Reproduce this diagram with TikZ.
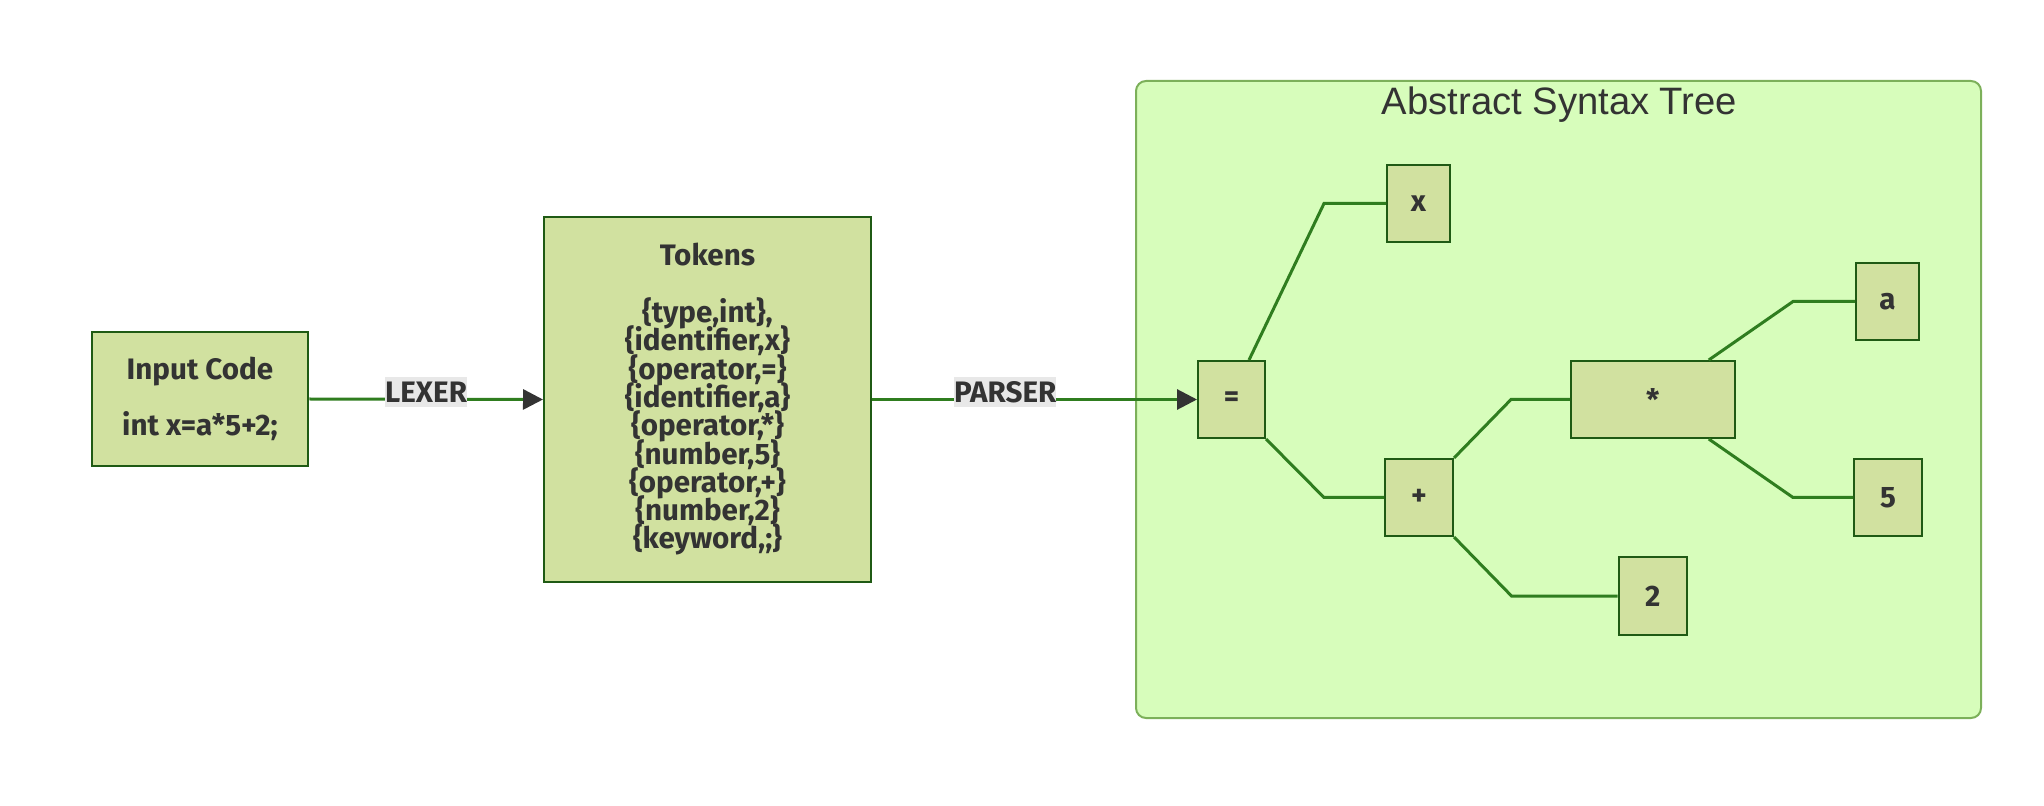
\documentclass[tikz,border=0pt]{standalone}
\usepackage{fontspec}
\setmainfont{Fira Sans}
\newfontfamily\titlefont{Liberation Sans}
\usetikzlibrary{arrows.meta,calc}
\definecolor{nodefill}{HTML}{D1E1A0}
\definecolor{nodeborder}{HTML}{1F5A14}
\definecolor{edgecol}{HTML}{2F7D1F}
\definecolor{clfill}{HTML}{D7FDBB}
\definecolor{clborder}{HTML}{7CB05A}
\definecolor{txt}{HTML}{333333}
\definecolor{lblbg}{HTML}{E8E8E8}
\newcommand{\nodefont}{\bfseries\fontsize{14.8}{14.15}\selectfont\lineskiplimit=-20pt\relax}
\begin{document}
\begin{tikzpicture}[x=0.5pt,y=-0.5pt,
  box/.style={draw=nodeborder, line width=1pt, fill=nodefill, inner sep=0pt, align=center, text=txt,
    font=\nodefont},
  edge/.style={draw=edgecol, line width=1.5pt},
  arr/.style={edge, -{Triangle[length=10pt,width=10pt,color=txt]}},
  lbl/.style={fill=lblbg, inner xsep=0pt, inner ysep=0pt, minimum height=15pt, text=txt,
    font=\nodefont},
  cluster/.style={draw=clborder, fill=clfill, line width=1pt, rounded corners=5pt}
]
\useasboundingbox (0,0) rectangle (2044,806);
% cluster
\draw[cluster] (1136,81) rectangle (1981,718);
\node[font=\titlefont\fontsize{19.1}{21}\selectfont, text=txt, anchor=base] (title) at (1559.5,115) {Abstract Syntax Tree};
% nodes
\node[box, minimum width=108.25pt, minimum height=67pt] (inp) at (200,399) {Input Code\\[14.15pt]int x=a*5+2;};
\node[box, minimum width=163.5pt, minimum height=182.5pt] (tok) at (707.5,399.5) {Tokens\\[14.15pt]\{type,int\},\\\{identifier,x\}\\\{operator,=\}\\\{identifier,a\}\\\{operator,*\}\\\{number,5\}\\\{operator,+\}\\\{number,2\}\\\{keyword,;\}};
\node[box, minimum width=33.5pt, minimum height=38.5pt] (eq) at (1231.5,399.5) {=};
\node[box, minimum width=31.5pt, minimum height=38.5pt] (x) at (1418.5,203.5) {x};
\node[box, minimum width=81.75pt, minimum height=38.5pt] (star) at (1652.75,399.5) {*};
\node[box, minimum width=31.5pt, minimum height=38.5pt] (a) at (1887.5,301.5) {a};
\node[box, minimum width=34pt, minimum height=38.5pt] (plus) at (1419,497.5) {+};
\node[box, minimum width=34pt, minimum height=38.5pt] (five) at (1888,497.5) {5};
\node[box, minimum width=34.25pt, minimum height=39pt] (two) at (1652.75,596) {2};
% connectors
\draw[arr] (inp.east) -- node[lbl, yshift=3.5pt] {LEXER} (tok.west);
\draw[arr] (tok.east) -- node[lbl, pos=0.41, yshift=3.5pt] {PARSER} (eq.west);
\draw[edge] ($(eq.north)+(17.5,0)$) -- ($(x.west)+(-62,0)$) -- (x.west);
\draw[edge] (eq.south east) -- ($(plus.west)+(-60,0)$) -- (plus.west);
\draw[edge] (plus.north east) -- ($(star.west)+(-59,0)$) -- (star.west);
\draw[edge] (plus.south east) -- ($(two.west)+(-106,0)$) -- (two.west);
\draw[edge] ($(star.north)+(56,0)$) -- ($(a.west)+(-62,0)$) -- (a.west);
\draw[edge] ($(star.south)+(56,0)$) -- ($(five.west)+(-60,0)$) -- (five.west);
\end{tikzpicture}
\end{document}
